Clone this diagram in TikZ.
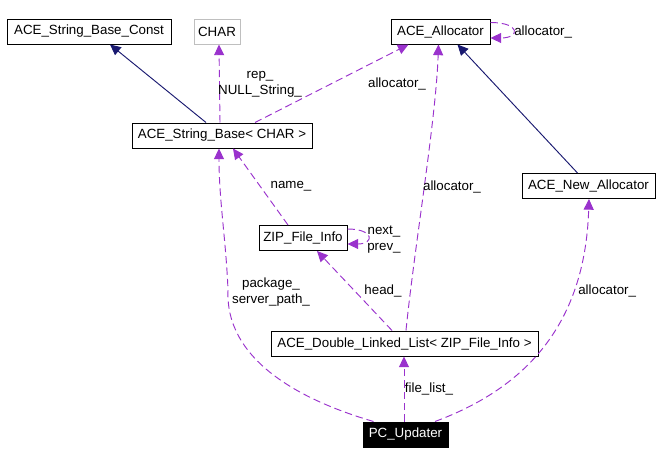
\documentclass[tikz,border=0pt]{standalone}
\usepackage{fontspec}
\setmainfont{Liberation Sans}
\usetikzlibrary{arrows.meta,calc}
\definecolor{edgepurple}{HTML}{9A32CD}
\definecolor{edgenavy}{HTML}{191970}
\definecolor{boxgray}{HTML}{BFBFBF}
\tikzset{
  box/.style={draw=black, line width=0.75pt, minimum height=18.75pt, inner sep=0pt, font=\fontsize{10}{12}\selectfont},
  graybox/.style={box, draw=boxgray},
  darkbox/.style={box, fill=black, text=white},
  usage/.style={draw=edgepurple, line width=0.7pt, dash pattern=on 5.5pt off 3pt, -{Triangle[length=8pt,width=7.5pt]}},
  inherit/.style={draw=edgenavy, line width=0.7pt, -{Triangle[length=8pt,width=7.5pt]}},
  lbl/.style={font=\fontsize{10}{12}\selectfont, inner sep=0pt, align=center},
}
\begin{document}
\begin{tikzpicture}[x=0.75pt,y=-0.75pt]
\useasboundingbox[fill=white] (0,0) rectangle (662,464);
% nodes
\node[box, minimum width=123pt] (const) at (89,31.5) {ACE\_String\_Base\_Const};
\node[graybox, minimum width=34.5pt] (char) at (217,31.5) {CHAR};
\node[box, minimum width=135pt] (sb) at (222,135.5) {ACE\_String\_Base< CHAR >};
\node[box, minimum width=74.25pt] (alloc) at (440.5,31.5) {ACE\_Allocator};
\node[box, minimum width=99.75pt] (na) at (588.5,186) {ACE\_New\_Allocator};
\node[box, minimum width=66pt] (zip) at (303,238) {ZIP\_File\_Info};
\node[box, minimum width=200.25pt] (dll) at (404.5,343.5) {ACE\_Double\_Linked\_List< ZIP\_File\_Info >};
\node[darkbox, minimum width=63.75pt] (pc) at (405.5,434.5) {PC\_Updater};
% inheritance
\draw[inherit] ($(sb.north)+(-16,0)$) -- ($(const.south)+(21,0)$);
\draw[inherit] ($(na.north)+(-11,0)$) -- ($(alloc.south)+(17,0)$);
% usage
\draw[usage] ($(sb.north)+(-2,0)$) -- ($(char.south)+(2,0)$);
\node[lbl] (lrep) at (260,84) {rep\_\\NULL\_String\_};
\draw[usage] ($(sb.north)+(33,0)$) -- ($(alloc.south)+(-32,0)$);
\node[lbl] (lal1) at (397,84) {allocator\_};
\draw[usage] ($(alloc.east)+(0,-9)$) .. controls +(30,0) and +(30,0) .. ($(alloc.east)+(0,6.5)$);
\node[lbl, anchor=west] (lal0) at (514,32) {allocator\_};
\draw[usage] ($(zip.north)+(-15,0)$) -- ($(sb.south)+(11,0)$);
\node[lbl] (lname) at (291,186) {name\_};
\draw[usage] ($(zip.east)+(0,-9)$) .. controls +(27,0) and +(27,0) .. ($(zip.east)+(0,6)$);
\node[lbl, anchor=west] (lnext) at (367,240) {next\_\\prev\_};
\draw[usage] ($(dll.north)+(-12.5,0)$) -- ($(zip.south)+(14,0)$);
\node[lbl] (lhead) at (383,291) {head\_};
\draw[usage] ($(dll.north)+(1.5,0)$) .. controls (414,250) and (436,120) .. ($(alloc.south)+(-2,0)$);
\node[lbl] (lal2) at (452,187) {allocator\_};
\draw[usage] ($(pc.north)+(-1.5,0)$) -- ($(dll.south)+(-0.5,0)$);
\node[lbl] (lfile) at (429,389) {file\_list\_};
\draw[usage] ($(pc.north)+(-32,0)$) .. controls (300,400) and (225,360) .. (228,290) .. controls (226,240) and (219,200) .. ($(sb.south)+(-3,0)$);
\node[lbl] (lpack) at (271,292) {package\_\\server\_path\_};
\draw[usage] ($(pc.north)+(29.5,0)$) .. controls (520,390) and (585,330) .. ($(na.south)+(0.5,0)$);
\node[lbl, anchor=west] (lal3) at (578,291) {allocator\_};
\end{tikzpicture}
\end{document}
